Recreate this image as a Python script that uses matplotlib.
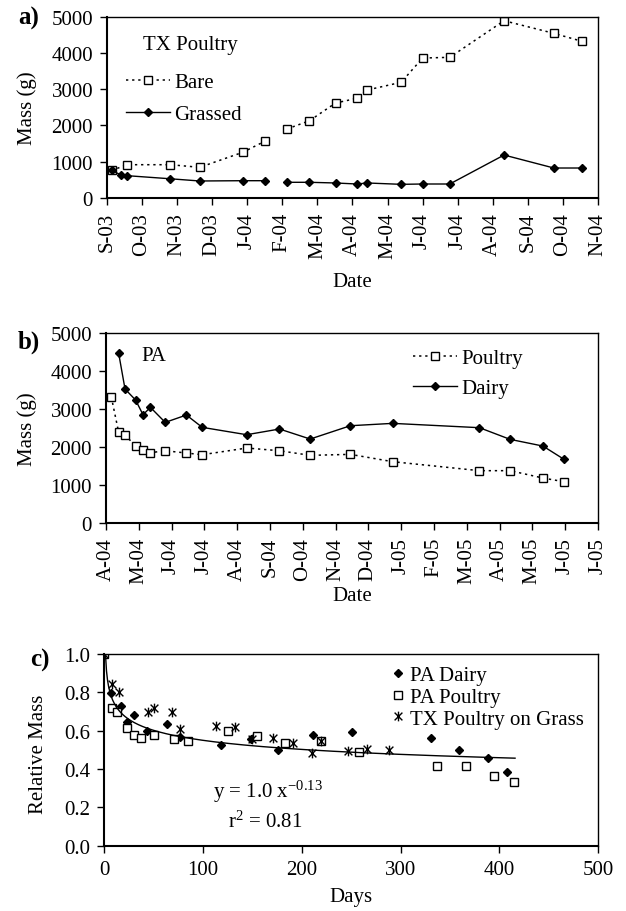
"""
Mass of manure pats over time: TX poultry (bare/grassed), PA poultry/dairy,
and relative mass vs days with power fit.
"""

import matplotlib
import numpy as np

matplotlib.use('Agg')
import matplotlib.dates as mdates
import matplotlib.pyplot as plt
from matplotlib.path import Path

plt.rcParams['font.family'] = ['Liberation Serif', 'DejaVu Serif']
plt.rcParams['mathtext.default'] = 'regular'
plt.rcParams['font.size'] = 15

nan = np.nan

# a) TX poultry, mass (g)
tx_bare_dates = ['2003-09-05', '2003-09-19', '2003-10-27', '2003-11-22', '2003-12-30',
                 '2004-01-19', '2004-01-29', '2004-02-07', '2004-02-27', '2004-03-21',
                 '2004-04-09', '2004-04-18', '2004-05-18', '2004-06-06', '2004-06-30',
                 '2004-08-17', '2004-09-30', '2004-10-25']
tx_bare = [760, 918, 918, 846, 1260,
           1572, nan, 1902, 2131, 2619,
           2749, 2978, 3190, 3860, 3879,
           4889, 4541, 4320]

tx_grass_dates = ['2003-09-05', '2003-09-13', '2003-09-19', '2003-10-27', '2003-11-22',
                  '2003-12-30', '2004-01-19', '2004-01-29', '2004-02-07', '2004-02-27',
                  '2004-03-21', '2004-04-09', '2004-04-18', '2004-05-18', '2004-06-06',
                  '2004-06-30', '2004-08-17', '2004-09-30', '2004-10-25']
tx_grass = [760, 643, 615, 530, 469,
            477, 477, nan, 433, 433,
            414, 386, 414, 377, 386,
            386, 1185, 827, 827]

# b) PA, mass (g)
pa_poultry_dates = ['2004-04-06', '2004-04-13', '2004-04-19', '2004-04-29', '2004-05-06',
                    '2004-05-13', '2004-05-27', '2004-06-16', '2004-07-01', '2004-08-12',
                    '2004-09-12', '2004-10-11', '2004-11-18', '2004-12-28', '2005-03-20',
                    '2005-04-18', '2005-05-19', '2005-06-08']
pa_poultry = [3330, 2390, 2320, 2030, 1924,
              1853, 1906, 1845, 1801, 1977,
              1906, 1784, 1810, 1617, 1380,
              1380, 1186, 1089]

pa_dairy_dates = pa_poultry_dates[1:]
pa_dairy = [4472, 3532, 3242, 2855,
            3049, 2653, 2847, 2522, 2328,
            2478, 2214, 2565, 2627, 2513,
            2205, 2029, 1678]

# c) relative mass vs days
rel_dairy_days = [0, 6.6, 16.4, 22.8, 30.2, 42.8, 63.3, 76.8, 117.7, 148.4,
                  176, 211.6, 251, 330.5, 359.5, 388.2, 408]
rel_dairy = [1.0, 0.795, 0.727, 0.647, 0.683, 0.597, 0.637, 0.569, 0.524, 0.557,
             0.499, 0.577, 0.591, 0.562, 0.498, 0.456, 0.383]

rel_poultry_days = [0, 7.9, 13, 22.8, 30, 37.3, 49.8, 70, 84.3, 125,
                    154.8, 183, 219, 258, 336.6, 366, 395, 415]
rel_poultry = [1.0, 0.72, 0.696, 0.616, 0.578, 0.562, 0.576, 0.558, 0.546, 0.597,
               0.574, 0.536, 0.545, 0.487, 0.417, 0.417, 0.362, 0.331]

rel_tx_days = [0, 7.9, 14.7, 44, 50.5, 68.4, 76.5, 113, 132.5, 149.7,
               170.4, 191.3, 210.2, 219, 247, 265.6, 288.5]
rel_tx = [1.0, 0.842, 0.804, 0.696, 0.72, 0.699, 0.609, 0.623, 0.619, 0.557,
          0.56, 0.536, 0.484, 0.545, 0.496, 0.504, 0.501]

fit_a, fit_b, fit_r2 = 1.0, -0.13, 0.81
fit_xmax = 416

DOTTED = (0, (1.5, 2.5))

# Excel-style asterisk marker (X with vertical bar)
star = Path([(-1, -1), (1, 1), (-1, 1), (1, -1), (0, -1.25), (0, 1.25)],
            [Path.MOVETO, Path.LINETO, Path.MOVETO, Path.LINETO, Path.MOVETO, Path.LINETO])


def to_num(dates):
    return mdates.date2num(np.array(dates, dtype='datetime64[D]'))


def style_axes(ax):
    for side in ['left', 'bottom']:
        ax.spines[side].set_linewidth(1.5)
    for side in ['top', 'right']:
        ax.spines[side].set_linewidth(1.0)
    ax.tick_params(direction='out', length=5, width=1.0, pad=5)


def date_axis(ax, start, n_ticks):
    t0 = mdates.date2num(np.datetime64(start))
    ticks = [t0 + 31 * k for k in range(n_ticks)]
    ax.set_xlim(ticks[0], ticks[-1])
    ax.set_xticks(ticks)
    labels = []
    for t in ticks:
        d = mdates.num2date(t)
        labels.append(d.strftime('%b')[0] + '-' + d.strftime('%y'))
    ax.set_xticklabels(labels, rotation=90)


fig = plt.figure(figsize=(6.26, 9.12), dpi=100)

# ---- panel a
ax1 = fig.add_axes([0.1709, 0.7818, 0.7843, 0.1988])
ax1.plot(to_num(tx_bare_dates), tx_bare, linestyle=DOTTED, color='black', lw=1.1,
         marker='s', ms=6, mfc='white', mec='black', mew=1.0, label='Bare')
ax1.plot(to_num(tx_grass_dates), tx_grass, '-', color='black', lw=1.0,
         marker='D', ms=4.5, label='Grassed')
ax1.set_ylim(0, 5000)
ax1.set_yticks(range(0, 5001, 1000))
date_axis(ax1, '2003-09-01', 15)
style_axes(ax1)
ax1.set_ylabel('Mass (g)')
ax1.yaxis.set_label_coords(-0.143, 0.5)
ax1.set_xlabel('Date')
ax1.xaxis.set_label_coords(0.5, -0.41)
ax1.text(0.0733, 0.849, 'TX Poultry', transform=ax1.transAxes, ha='left', va='center')
ax1.legend(loc='center left', bbox_to_anchor=(0.0387, 0.55), frameon=False,
           borderpad=0, borderaxespad=0, handlelength=2.1, handletextpad=0.2,
           labelspacing=0.62)

# ---- panel b
ax2 = fig.add_axes([0.1693, 0.4254, 0.7859, 0.2080])
ax2.plot(to_num(pa_poultry_dates), pa_poultry, linestyle=DOTTED, color='black', lw=1.1,
         marker='s', ms=6, mfc='white', mec='black', mew=1.0, label='Poultry')
ax2.plot(to_num(pa_dairy_dates), pa_dairy, '-', color='black', lw=1.0,
         marker='D', ms=4.5, label='Dairy')
ax2.set_ylim(0, 5000)
ax2.set_yticks(range(0, 5001, 1000))
date_axis(ax2, '2004-04-01', 16)
style_axes(ax2)
ax2.set_ylabel('Mass (g)')
ax2.yaxis.set_label_coords(-0.141, 0.5)
ax2.set_xlabel('Date')
ax2.xaxis.set_label_coords(0.5, -0.33)
ax2.text(0.0726, 0.882, 'PA', transform=ax2.transAxes, ha='left', va='center')
ax2.legend(loc='center left', bbox_to_anchor=(0.624, 0.789), frameon=False,
           borderpad=0, borderaxespad=0, handlelength=2.1, handletextpad=0.2,
           labelspacing=0.5)

# ---- panel c
ax3 = fig.add_axes([0.1669, 0.0716, 0.7883, 0.2102])
ax3.plot(rel_dairy_days, rel_dairy, linestyle='none', marker='D', ms=4.5,
         color='black', label='PA Dairy')
ax3.plot(rel_poultry_days, rel_poultry, linestyle='none', marker='s', ms=6,
         mfc='white', mec='black', mew=1.0, label='PA Poultry')
ax3.plot(rel_tx_days, rel_tx, linestyle='none', marker=star, ms=7,
         mec='black', mew=1.0, label='TX Poultry on Grass')
xs = np.linspace(1, fit_xmax, 400)
ax3.plot(xs, fit_a * xs ** fit_b, '-', color='black', lw=1.0)
ax3.set_xlim(0, 500)
ax3.set_ylim(0, 1.0)
ax3.set_xticks(range(0, 501, 100))
ax3.set_yticks(np.arange(0, 1.01, 0.2))
ax3.yaxis.set_major_formatter(matplotlib.ticker.FormatStrFormatter('%.1f'))
style_axes(ax3)
ax3.set_ylabel('Relative Mass')
ax3.yaxis.set_label_coords(-0.115, 0.48)
ax3.set_xlabel('Days')
ax3.xaxis.set_label_coords(0.5, -0.215)
ax3.text(110, 0.254, 'y = %.1f x$^{%.2f}$' % (fit_a, fit_b), ha='left', va='baseline')
ax3.text(125, 0.099, 'r$^{2}$ = %.2f' % fit_r2, ha='left', va='baseline')
ax3.legend(loc='center left', bbox_to_anchor=(0.5815, 0.775), frameon=False,
           borderpad=0, borderaxespad=0, handlelength=0.6, handletextpad=0.3,
           labelspacing=0.1)

# panel letters
fig.text(18 / 626, 1 - 18 / 912, 'a)', fontweight='bold', fontsize=18, ha='left', va='center')
fig.text(18 / 626, 1 - 342 / 912, 'b)', fontweight='bold', fontsize=18, ha='left', va='center')
fig.text(30 / 626, 1 - 660 / 912, 'c)', fontweight='bold', fontsize=18, ha='left', va='center')

fig.savefig('out.png', dpi=100)
plt.close(fig)
